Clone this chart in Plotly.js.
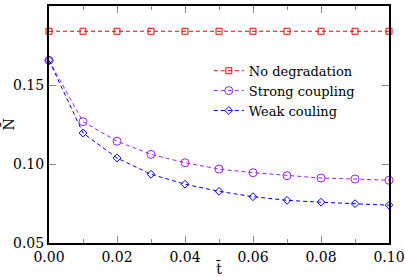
<!DOCTYPE html>
<html><head><meta charset="utf-8">
<script src="https://cdn.plot.ly/plotly-3.0.1.min.js"></script>
<style>html,body{margin:0;padding:0;background:#fff}#c{width:405px;height:277px}</style>
</head><body><div id="c"></div>
<script>
const tVals = [0.00,0.01,0.02,0.03,0.04,0.05,0.06,0.07,0.08,0.09,0.10];
const noDeg = [0.184,0.184,0.184,0.184,0.184,0.184,0.184,0.184,0.184,0.184,0.184];
const strong = [0.1656,0.1268,0.1144,0.1061,0.1008,0.0968,0.0945,0.0926,0.0911,0.0905,0.0897];
const weak = [0.1656,0.1196,0.1038,0.0935,0.0872,0.0827,0.0793,0.0770,0.0758,0.0749,0.0739];
const names = ['No degradation','Strong coupling','Weak couling'];
const colors = ['#ff0000','#a020f0','#0000ff'];
const symbols = ['square-open','circle-open','diamond-open'];
const series = [noDeg, strong, weak];
const traces = series.map((y,i)=>({
  x: tVals, y: y, name: names[i], type:'scatter', mode:'lines+markers',
  line:{color:colors[i], width:1, dash:'4px,3px'},
  marker:{symbol:symbols[i], color:colors[i], size: i===1?8:6, line:{width:1,color:colors[i]}},
  cliponaxis:false
}));
const font = {family:'DejaVu Serif', size:14, color:'#000'};
const lfont = {family:'DejaVu Serif', size:13, color:'#000'};
Plotly.newPlot('c', traces, {
  width:405, height:277,
  margin:{l:49, r:16, t:6, b:34},
  paper_bgcolor:'#fff', plot_bgcolor:'#fff',
  font: font,
  showlegend:true,
  legend:{x:0.47, y:0.79, xanchor:'left', yanchor:'top', bgcolor:'rgba(0,0,0,0)', font:lfont, tracegroupgap:0},
  xaxis:{range:[0,0.1], dtick:0.02, tickformat:'.2f', ticks:'inside', ticklen:7, tickcolor:'#888',
    showline:true, linecolor:'#000', linewidth:2, mirror:'ticks', showgrid:false, zeroline:false,
    minor:{dtick:0.01, ticks:'inside', ticklen:4, tickcolor:'#888', showgrid:false},
    tickfont:font, title:{text:'t\u0304', font:font, standoff:2}},
  yaxis:{range:[0.05,0.2], dtick:0.05, tickformat:'.2f', ticks:'inside', ticklen:7, tickcolor:'#888',
    showline:true, linecolor:'#000', linewidth:2, mirror:'ticks', showgrid:false, zeroline:false,
    tickfont:font, title:{text:'N\u0304', font:font, standoff:8}}
}, {staticPlot:true, displayModeBar:false});
</script></body></html>
